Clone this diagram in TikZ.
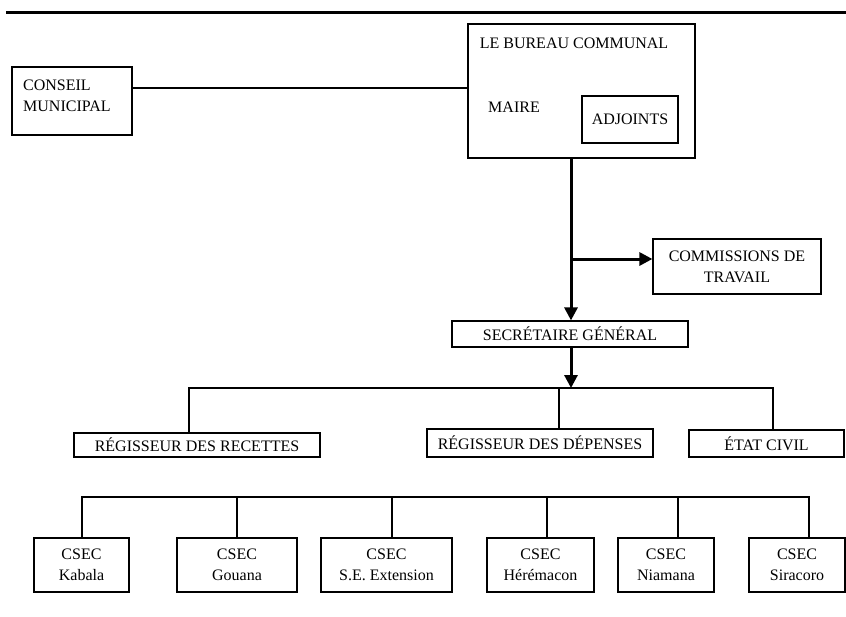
\documentclass[tikz,border=0pt]{standalone}
\usepackage{fontspec}
\setmainfont{Liberation Serif}
\usetikzlibrary{arrows.meta}
\tikzset{
  box/.style={draw, line width=1.2pt, inner sep=0pt, font=\fontsize{16}{21}\selectfont},
  mbox/.style={box, align=center},
  lbl/.style={inner sep=0pt, font=\fontsize{16}{21}\selectfont},
  thin/.style={line width=1.2pt},
  thickline/.style={line width=3pt},
  tip/.style={-{Triangle[length=13pt,width=13pt]}},
}
\newcommand{\mybox}[7]{% style, name, x1, x2, y1, y2, text
  \node[#1, minimum width={#4-#3}, minimum height={#6-#5}] (#2) at ({(#3+#4)/2},{(#5+#6)/2}) {#7};}
\begin{document}
\begin{tikzpicture}[x=1pt,y=-1pt]
\useasboundingbox (0,0) rectangle (846,616);
% top rule
\coordinate (r1) at (6,12);
\coordinate (r2) at (846,12);
\draw[line width=3pt] (r1) -- (r2);
% top boxes
\mybox{box}{conseil}{12}{132}{67}{135}{}
\node[lbl, align=left, anchor=north west] (conseiltxt) at (23,80) {CONSEIL\\MUNICIPAL};
\mybox{box}{bureau}{468}{695}{24}{158}{}
\node[lbl] (bureautxt) at (574,43) {LE BUREAU COMMUNAL};
\node[lbl] (maire) at (514,107) {MAIRE};
\mybox{box}{adjoints}{582}{678}{96}{143}{ADJOINTS}
\coordinate (l1) at (0,88);
\draw[thin] (conseil.east |- l1) -- (bureau.west |- l1);
% commissions and secretaire
\mybox{mbox}{comm}{653}{821}{239}{294}{COMMISSIONS DE\\TRAVAIL}
\mybox{box}{sg}{452}{688}{321}{347}{SECRÉTAIRE GÉNÉRAL}
\coordinate (spine) at (571,0);
\coordinate (l2) at (0,259);
\draw[thickline, tip] (bureau.south -| spine) -- (sg.north -| spine);
\draw[thickline, tip] (spine |- l2) -- (comm.west |- l2);
% bus 1
\coordinate (b1) at (571,388);
\coordinate (b1l) at (189,388);
\coordinate (b1m) at (559,388);
\coordinate (b1r) at (773,388);
\draw[thickline, tip] (sg.south -| spine) -- (b1);
\mybox{box}{rec}{74}{320}{433}{457}{RÉGISSEUR DES RECETTES}
\mybox{box}{dep}{427}{653}{429}{457}{RÉGISSEUR DES DÉPENSES}
\mybox{box}{etat}{689}{844}{430}{457}{ÉTAT CIVIL}
\draw[thin] (rec.north -| b1l) -- (b1l) -- (b1r) -- (etat.north -| b1r);
\draw[thin] (b1m) -- (dep.north -| b1m);
% bus 2
\mybox{mbox}{kab}{34}{129}{538}{592}{CSEC\\Kabala}
\mybox{mbox}{gou}{177}{297}{538}{592}{CSEC\\Gouana}
\mybox{mbox}{ext}{321}{452}{538}{592}{CSEC\\S.E. Extension}
\mybox{mbox}{her}{487}{594}{538}{592}{CSEC\\Hérémacon}
\mybox{mbox}{nia}{618}{714}{538}{592}{CSEC\\Niamana}
\mybox{mbox}{sir}{749}{845}{538}{592}{CSEC\\Siracoro}
\coordinate (c1) at (82,497);
\coordinate (c2) at (237,497);
\coordinate (c3) at (392,497);
\coordinate (c4) at (547,497);
\coordinate (c5) at (678,497);
\coordinate (c6) at (809,497);
\draw[thin] (kab.north -| c1) -- (c1) -- (c6) -- (sir.north -| c6);
\draw[thin] (c2) -- (gou.north -| c2);
\draw[thin] (c3) -- (ext.north -| c3);
\draw[thin] (c4) -- (her.north -| c4);
\draw[thin] (c5) -- (nia.north -| c5);
\end{tikzpicture}
\end{document}
